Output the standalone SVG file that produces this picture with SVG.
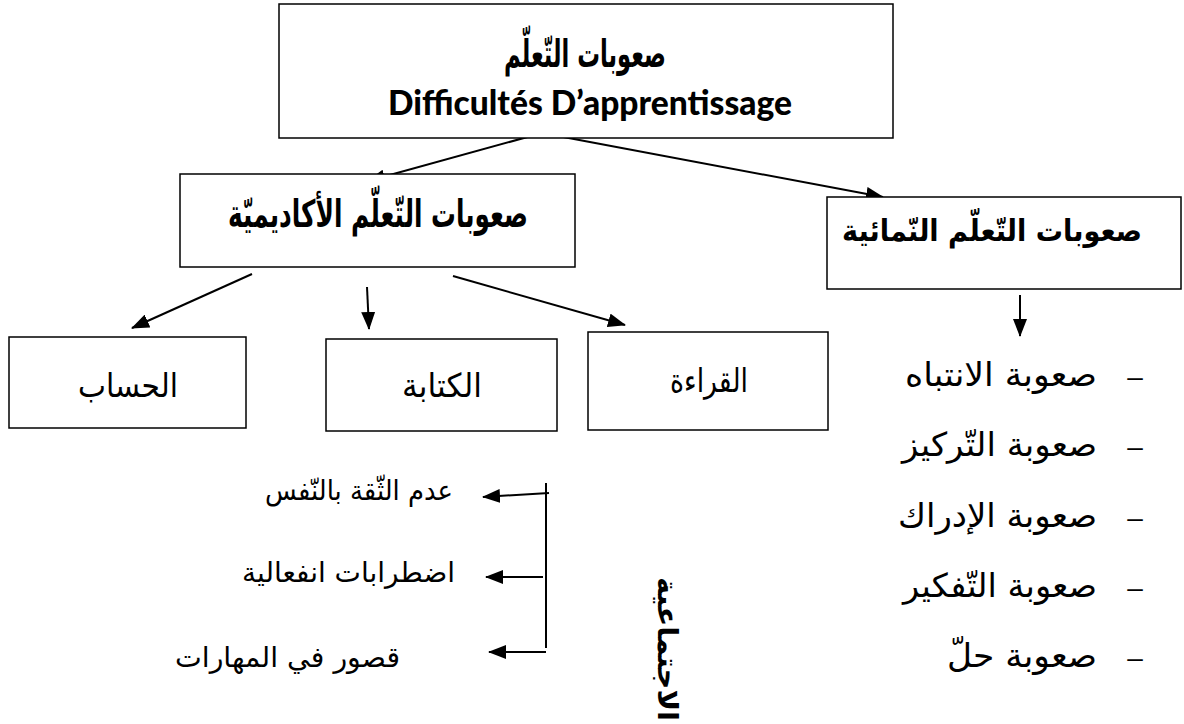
<svg xmlns="http://www.w3.org/2000/svg" width="1184" height="724" viewBox="0 0 1184 724">
<style>
.box{fill:#fff;stroke:#000;stroke-width:1.5}
.con{stroke:#000;stroke-width:2;fill:none}
.ar{font-family:"DejaVu Sans","Liberation Sans",sans-serif;fill:#000}
.b{font-weight:bold}
.lat{font-family:Lato,"Open Sans",sans-serif;font-weight:900;fill:#000}
.dash{font-family:"Liberation Sans",sans-serif;font-size:28px;fill:#000}
</style>
<defs>
<marker id="ah" markerWidth="18" markerHeight="14" refX="17" refY="7" orient="auto" markerUnits="userSpaceOnUse">
<path d="M0,0 L18,7 L0,14 Z" fill="#000"/>
</marker>
</defs>
<rect width="1184" height="724" fill="#fff"/>
<g id="connectors">
<line class="con" x1="542" y1="133" x2="368" y2="181" marker-end="url(#ah)"/>
<line class="con" x1="542" y1="133" x2="883" y2="197" marker-end="url(#ah)"/>
<line class="con" x1="252" y1="274" x2="132" y2="328" marker-end="url(#ah)"/>
<line class="con" x1="367" y1="287" x2="369" y2="329" marker-end="url(#ah)"/>
<line class="con" x1="453" y1="276" x2="625" y2="325" marker-end="url(#ah)"/>
<line class="con" x1="1020" y1="295" x2="1020" y2="336" marker-end="url(#ah)"/>
<line class="con" x1="546" y1="483" x2="546" y2="648"/>
<line class="con" x1="549" y1="493" x2="483" y2="497" marker-end="url(#ah)"/>
<line class="con" x1="543" y1="577" x2="486" y2="577" marker-end="url(#ah)"/>
<line class="con" x1="546" y1="652" x2="489" y2="652" marker-end="url(#ah)"/>
</g>
<g id="root">
<rect class="box" x="279" y="4" width="614" height="134"/>
<text class="ar b" x="585" y="67" font-size="38" text-anchor="middle" textLength="162" lengthAdjust="spacingAndGlyphs">صعوبات التّعلّم</text>
<text class="lat" x="590" y="115" font-size="35" text-anchor="middle" textLength="404" lengthAdjust="spacingAndGlyphs">Difficultés D’apprentissage</text>
</g>
<g id="academic">
<rect class="box" x="180" y="174" width="395" height="93"/>
<text class="ar b" x="378" y="227" font-size="38" text-anchor="middle" textLength="300" lengthAdjust="spacingAndGlyphs">صعوبات التّعلّم الأكاديميّة</text>
</g>
<g id="developmental">
<rect class="box" x="827" y="197" width="354" height="92"/>
<text class="ar b" x="992" y="241" font-size="30" text-anchor="middle" textLength="300" lengthAdjust="spacingAndGlyphs">صعوبات التّعلّم النّمائية</text>
</g>
<g id="hisab">
<rect class="box" x="9" y="337" width="237" height="91"/>
<text class="ar" x="128" y="397" font-size="33" text-anchor="middle" textLength="100" lengthAdjust="spacingAndGlyphs">الحساب</text>
</g>
<g id="kitaba">
<rect class="box" x="326" y="339" width="231" height="92"/>
<text class="ar" x="442" y="397" font-size="33" text-anchor="middle" textLength="80" lengthAdjust="spacingAndGlyphs">الكتابة</text>
</g>
<g id="qiraa">
<rect class="box" x="588" y="332" width="240" height="98"/>
<text class="ar" x="709" y="392" font-size="33" text-anchor="middle" textLength="78" lengthAdjust="spacingAndGlyphs">القراءة</text>
</g>
<g id="dev-list">
<text class="dash" x="1135" y="386" text-anchor="middle">–</text>
<text class="ar" x="1097" y="386" font-size="33" text-anchor="end" textLength="192" lengthAdjust="spacingAndGlyphs">صعوبة الانتباه</text>
<text class="dash" x="1135" y="456" text-anchor="middle">–</text>
<text class="ar" x="1097" y="456" font-size="33" text-anchor="end" textLength="195" lengthAdjust="spacingAndGlyphs">صعوبة التّركيز</text>
<text class="dash" x="1135" y="527" text-anchor="middle">–</text>
<text class="ar" x="1097" y="527" font-size="33" text-anchor="end" textLength="199" lengthAdjust="spacingAndGlyphs">صعوبة الإدراك</text>
<text class="dash" x="1135" y="597" text-anchor="middle">–</text>
<text class="ar" x="1097" y="597" font-size="33" text-anchor="end" textLength="194" lengthAdjust="spacingAndGlyphs">صعوبة التّفكير</text>
<text class="dash" x="1135" y="667" text-anchor="middle">–</text>
<text class="ar" x="1097" y="667" font-size="33" text-anchor="end" textLength="150" lengthAdjust="spacingAndGlyphs">صعوبة حلّ</text>
</g>
<g id="social-list">
<text class="ar" x="453" y="500" font-size="28" text-anchor="end" textLength="188" lengthAdjust="spacingAndGlyphs">عدم الثّقة بالنّفس</text>
<text class="ar" x="455" y="582" font-size="28" text-anchor="end" textLength="213" lengthAdjust="spacingAndGlyphs">اضطرابات انفعالية</text>
<text class="ar" x="400" y="667" font-size="28" text-anchor="end" textLength="225" lengthAdjust="spacingAndGlyphs">قصور في المهارات</text>
<text class="ar b" transform="translate(658,577) rotate(90)" font-size="28" text-anchor="start" textLength="144" lengthAdjust="spacingAndGlyphs">الاجتماعية</text>
</g>
</svg>
